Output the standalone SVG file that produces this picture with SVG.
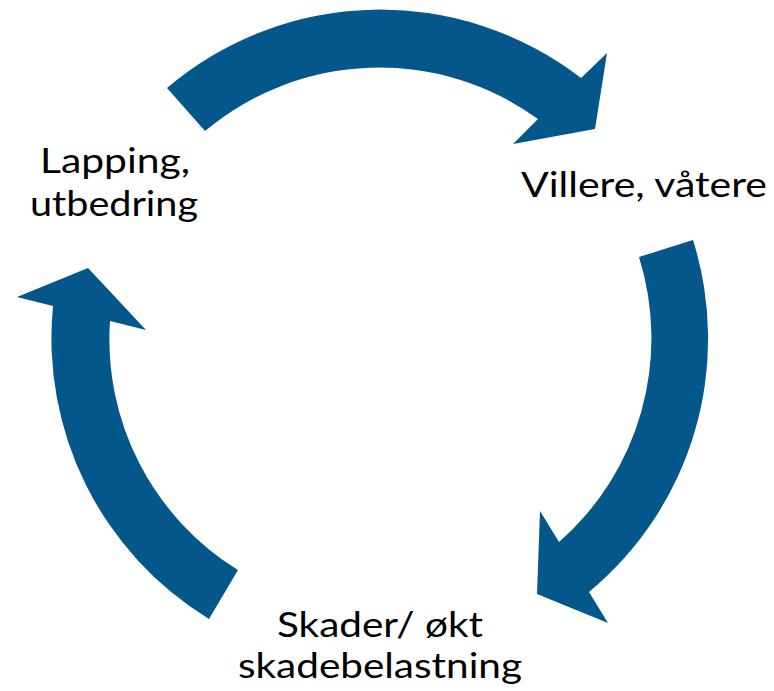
<svg xmlns="http://www.w3.org/2000/svg" width="774" height="691" viewBox="0 0 774 691">
<style>
.arrow{fill:#03578A;stroke:none}
.lbl{font-family:Lato,"Open Sans","Liberation Sans",sans-serif;font-size:34px;fill:#000}
</style>
<rect width="774" height="691" fill="#fff"/>
<g id="connectors">
<path class="arrow" d="M 167,88 A 329 329 0 0 1 581,78 L 607,53 L 595,129 L 513,144 L 538,119 A 271 271 0 0 0 205,131 Z"/>
<path class="arrow" d="M 693,240 A 329 329 0 0 1 589,592 L 608,623 L 537,594 L 540,511 L 559,542 A 271 271 0 0 0 639,257 Z"/>
<path class="arrow" d="M 209,619 A 329 329 0 0 1 53,306 L 17,297 L 88,268 L 146,330 L 110,321 A 271 271 0 0 0 238,570 Z"/>
</g>
<g id="node-lapping">
<text class="lbl" x="40" y="173" textLength="150" lengthAdjust="spacingAndGlyphs">Lapping,</text>
<text class="lbl" x="30" y="216" textLength="168" lengthAdjust="spacingAndGlyphs">utbedring</text>
</g>
<g id="node-villere">
<text class="lbl" x="521" y="197" textLength="246" lengthAdjust="spacingAndGlyphs">Villere, våtere</text>
</g>
<g id="node-skader">
<text class="lbl" x="277" y="637" textLength="206" lengthAdjust="spacingAndGlyphs">Skader/ økt</text>
<text class="lbl" x="238" y="678" textLength="284" lengthAdjust="spacingAndGlyphs">skadebelastning</text>
</g>
</svg>
